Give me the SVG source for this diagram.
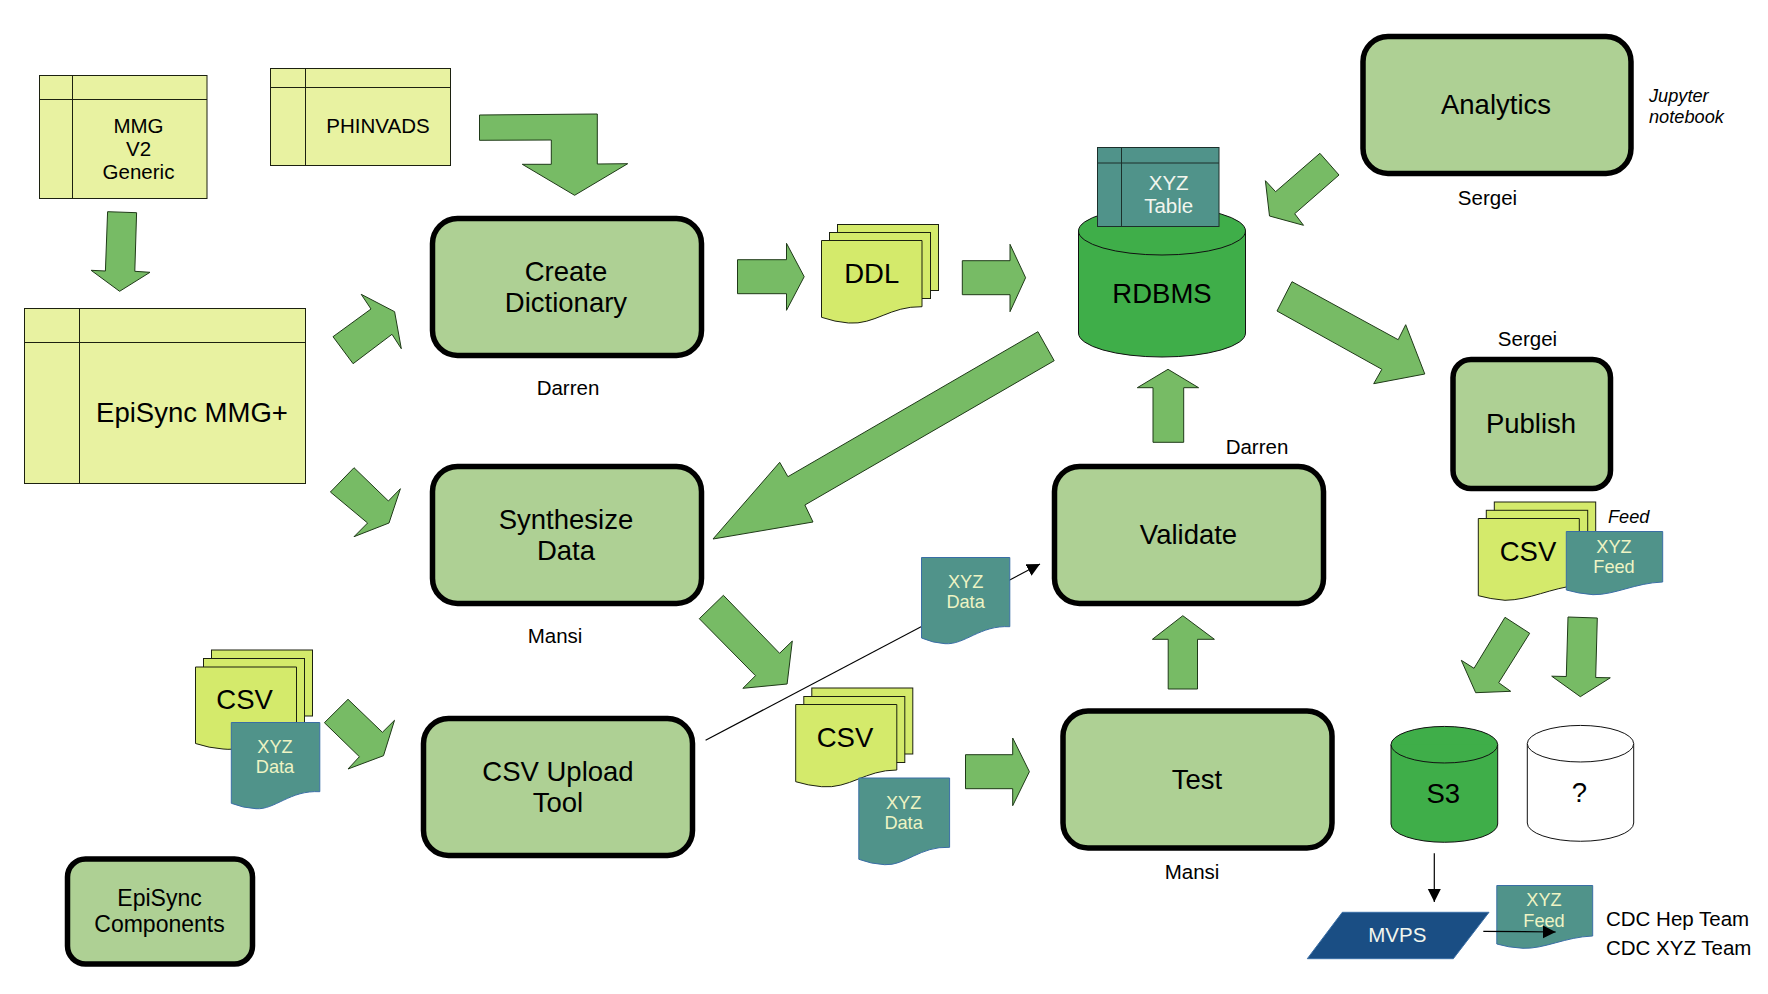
<svg xmlns="http://www.w3.org/2000/svg" width="1768" height="994" viewBox="0 0 1768 994">
<style>
text{font-family:"Liberation Sans",Arial,sans-serif;fill:#000;text-anchor:middle}
.s20{font-size:20.5px}.s27{font-size:27.5px}.s23{font-size:23px}.s18{font-size:18.2px}
.it{font-style:italic;text-anchor:start}.st{text-anchor:start}
.pale{fill:#eef4c4}.wh{fill:#f2f6ee}
.tb{fill:#e8f2a1;stroke:#1c2110;stroke-width:1}
.tbl{fill:none;stroke:#1c2110;stroke-width:1}
.proc{fill:#aed094;stroke:#000;stroke-width:5.5}
.arr{fill:#77bb65;stroke:#1f3a18;stroke-width:1}
.doc{fill:#d4ea6b;stroke:#1c2110;stroke-width:1}
.td{fill:#50938a;stroke:#3a6ea5;stroke-width:1}
.cyl{fill:#3fae49;stroke:#111;stroke-width:1}
.cylw{fill:#fff;stroke:#111;stroke-width:1}
.ln{fill:none;stroke:#000;stroke-width:1.2}
</style>
<defs>
<marker id="ah" markerUnits="userSpaceOnUse" markerWidth="14" markerHeight="14" refX="13" refY="6.5" orient="auto"><path d="M0 0L13 6.5L0 13Z" fill="#000"/></marker>
</defs>
<g id="connectors">
<polygon class="arr" points="479.500,115 597.300,114 597.300,164 627.700,163.700 574.600,195.300 522.300,164.300 551.300,164.300 551.300,140 479.500,140.300"/>
<polygon class="arr" points="107.600,211.700 136.600,212.700 134.800,271.300 150,272.300 119.600,291.300 91.100,270.300 105.400,271"/>
<polygon class="arr" points="333,336.700 371,309 361.200,294.300 394.600,311.700 401.300,348.700 392,334.300 353.100,363.700"/>
<polygon class="arr" points="330.400,492 354,467.700 388.400,501 400.400,488.700 389,523 354,536.700 367.600,523"/>
<polygon class="arr" points="324.400,722.700 348,699.300 382.400,732.300 394.500,720.300 383.500,755.700 348,769 359.400,756.700"/>
<polygon class="arr" points="699.300,618.700 723.400,595.300 779.600,653.300 792.300,641 787.100,684 742.900,688.300 755.500,675.700"/>
<polygon class="arr" points="965.500,754.700 1012.700,754.700 1012.700,738 1029.400,771.700 1012.700,805.700 1012.700,788.700 965.500,788.700"/>
<polygon class="arr" points="737.500,259.700 786.500,259.700 786.500,243.300 804.200,276.700 786.500,310.300 786.500,293.700 737.500,293.700"/>
<polygon class="arr" points="962.300,260.700 1010,260.700 1010,244.300 1025.600,277.700 1010,311.700 1010,294.700 962.300,294.700"/>
<polygon class="arr" points="1319.900,153.300 1339,175 1294.700,213.700 1303.500,225.300 1269.500,216 1265.400,180.700 1275.600,191.700"/>
<polygon class="arr" points="1292,281.700 1398.200,339.700 1405.700,324.700 1424.800,374 1373.700,383.700 1381.900,369.300 1277,311"/>
<polygon class="arr" points="1037.900,331.700 1054.200,360.700 804.900,505 813,522 713,539 779.700,462.300 787.900,476.700"/>
<polygon class="arr" points="1168,369.300 1198.600,387.700 1183.700,387.700 1183.700,442.300 1153,442.300 1153,387.700 1137.300,387.700"/>
<polygon class="arr" points="1182.800,615.700 1214.400,639.300 1197.500,639.300 1197.500,689 1168.200,689 1168.200,639.300 1152.400,639.300"/>
<polygon class="arr" points="1505,617.300 1529.700,633.300 1498.700,682.700 1510.700,691.300 1475.700,692.700 1461.300,660.300 1474,668.300"/>
<polygon class="arr" points="1568,617 1597.300,618 1595.700,677.500 1610.300,677.800 1580.300,696.700 1551.700,676.200 1566.300,676.500"/>
<line class="ln" x1="705.600" y1="740.300" x2="1040" y2="564" marker-end="url(#ah)"/>
<line class="ln" x1="1434.300" y1="853.300" x2="1434.300" y2="902" marker-end="url(#ah)"/>
</g>
<g id="mmg"><rect class="tb" x="39.500" y="75.500" width="167.500" height="123"/><path class="tbl" d="M72.500 75.500V198.500M39.500 99.500H207"/>
<text class="s20" x="138.500" y="133">MMG</text><text class="s20" x="138.500" y="156">V2</text><text class="s20" x="138.500" y="179">Generic</text></g>
<g id="phinvads"><rect class="tb" x="270.500" y="68.500" width="180" height="97"/><path class="tbl" d="M305.500 68.500V165.500M270.500 87.500H450.500"/>
<text class="s20" x="378" y="133">PHINVADS</text></g>
<g id="episync-mmg"><rect class="tb" x="24.500" y="308.500" width="281" height="175"/><path class="tbl" d="M79.500 308.500V483.500M24.500 342.500H305.500"/>
<text class="s27" x="192" y="422">EpiSync MMG+</text></g>
<g id="create-dictionary"><rect class="proc" x="432.500" y="218.500" width="269" height="137" rx="25"/>
<text class="s27" x="566" y="281">Create</text><text class="s27" x="566" y="312">Dictionary</text>
<text class="s20" x="568" y="395">Darren</text></g>
<g id="synthesize-data"><rect class="proc" x="432.500" y="466.500" width="269" height="137" rx="25"/>
<text class="s27" x="566" y="529">Synthesize</text><text class="s27" x="566" y="560">Data</text>
<text class="s20" x="555" y="643">Mansi</text></g>
<g id="csv-upload-tool"><rect class="proc" x="423.500" y="718.500" width="269" height="137" rx="25"/>
<text class="s27" x="558" y="781">CSV Upload</text><text class="s27" x="558" y="812">Tool</text></g>
<g id="validate"><rect class="proc" x="1054.500" y="466.500" width="269" height="137" rx="25"/>
<text class="s27" x="1188.500" y="544">Validate</text><text class="s20" x="1257" y="454">Darren</text></g>
<g id="test"><rect class="proc" x="1063" y="711" width="269" height="137" rx="25"/>
<text class="s27" x="1197" y="789">Test</text><text class="s20" x="1192" y="879">Mansi</text></g>
<g id="analytics"><rect class="proc" x="1363" y="36.500" width="268" height="137" rx="25"/>
<text class="s27" x="1496" y="114">Analytics</text><text class="s20" x="1487.500" y="205">Sergei</text>
<text class="s18 it" x="1649" y="102">Jupyter</text><text class="s18 it" x="1649" y="123">notebook</text></g>
<g id="publish"><rect class="proc" x="1453" y="359.500" width="157.500" height="129" rx="18"/>
<text class="s27" x="1531" y="433">Publish</text><text class="s20" x="1527.500" y="346">Sergei</text></g>
<g id="episync-components"><rect class="proc" x="67.500" y="859" width="185" height="105" rx="18"/>
<text class="s23" x="159.500" y="906">EpiSync</text><text class="s23" x="159.500" y="932">Components</text></g>
<g id="ddl">
<rect class="doc" x="837.500" y="224.500" width="101" height="66"/><rect class="doc" x="829.500" y="232.500" width="101" height="66"/>
<path class="doc" d="M821.500 240.500H922V306.700C890 306 875 325 848.500 323Q835 322 821.500 317.300Z"/>
<text class="s27" x="871.700" y="283">DDL</text></g>
<g id="rdbms">
<path class="cyl" d="M1078.500 231A83.500 24 0 0 1 1245.500 231V333A83.500 24 0 0 1 1078.500 333Z"/>
<path class="cyl" d="M1078.500 231A83.500 24 0 0 0 1245.500 231"/>
<text class="s27" x="1162" y="303">RDBMS</text></g>
<g id="xyz-table"><rect x="1097.500" y="147.500" width="121.500" height="79" fill="#50938a" stroke="#1c2f2b"/><path d="M1121.500 147.500V226.500M1097.500 163H1219" fill="none" stroke="#1c2f2b"/>
<text class="s20 wh" x="1168.700" y="190">XYZ</text><text class="s20 wh" x="1168.700" y="213">Table</text></g>
<g id="csv-left">
<rect class="doc" x="211.500" y="650" width="101" height="66"/><rect class="doc" x="203.500" y="658.500" width="101" height="66"/>
<path class="doc" d="M195.500 667H296.500V733C265 733 250 752 223 749Q209 748 195.500 743.500Z"/>
<text class="s27" x="244.600" y="709">CSV</text></g>
<g id="xyz-data-left">
<path class="td" d="M231.300 722.500H319.800V791.700C290 790 275 810 256 808.700Q243 808 231.300 803.300Z"/>
<text class="s18 pale" x="275" y="753">XYZ</text><text class="s18 pale" x="275" y="773">Data</text></g>
<g id="xyz-data-top">
<path class="td" d="M921.500 557.500H1009.800V626.700C980 625 965 645 945 643.700Q933 643 921.500 638Z"/>
<text class="s18 pale" x="965.600" y="587.500">XYZ</text><text class="s18 pale" x="965.600" y="607.500">Data</text></g>
<g id="csv-mid">
<rect class="doc" x="811.800" y="688" width="101" height="66"/><rect class="doc" x="803.800" y="696.500" width="101" height="66"/>
<path class="doc" d="M795.700 704.500H896.800V770C865 770 850 789 821.600 786.700Q808 785.500 795.700 781.700Z"/>
<text class="s27" x="845" y="747">CSV</text></g>
<g id="xyz-data-mid">
<path class="td" d="M858.800 778H949.600V847.300C920 846 905 866 884.700 864.700Q871 864 858.800 859.300Z"/>
<text class="s18 pale" x="903.600" y="809">XYZ</text><text class="s18 pale" x="903.600" y="829">Data</text></g>
<g id="csv-feed">
<rect class="doc" x="1494.300" y="502" width="101.400" height="66"/><rect class="doc" x="1486.300" y="510.300" width="101.400" height="66"/>
<path class="doc" d="M1478.300 518.500H1579.300V585C1550 588 1530 600 1505 600.300Q1490 599 1478.300 595.700Z"/>
<text class="s27" x="1528" y="561">CSV</text>
<text class="s18 it" x="1608" y="523">Feed</text></g>
<g id="xyz-feed">
<path class="td" d="M1566.300 531.500H1662.700V582C1635 583 1615 595 1593 594.700Q1578 593.500 1566.300 590Z"/>
<text class="s18 pale" x="1614" y="553">XYZ</text><text class="s18 pale" x="1614" y="573">Feed</text></g>
<g id="s3">
<path class="cyl" d="M1391 744.700A53.350 18.300 0 0 1 1497.700 744.700V824A53.350 18.300 0 0 1 1391 824Z"/>
<path class="cyl" d="M1391 744.700A53.350 18.300 0 0 0 1497.700 744.700"/>
<text class="s27" x="1443.300" y="803">S3</text></g>
<g id="unknown-store">
<path class="cylw" d="M1527.300 743.700A53.200 18.300 0 0 1 1633.700 743.700V823A53.200 18.300 0 0 1 1527.300 823Z"/>
<path class="cylw" d="M1527.300 743.700A53.200 18.300 0 0 0 1633.700 743.700"/>
<text class="s27" x="1579.300" y="802">?</text></g>
<g id="mvps"><polygon points="1342.300,912.300 1489,912.300 1453.300,958.700 1307.300,958.700" fill="#1a4e84" stroke="#3a6ea5"/>
<text class="s20 wh" x="1397.300" y="942">MVPS</text></g>
<g id="xyz-feed-out">
<path class="td" d="M1496.800 885.500H1592.700V936C1565 937 1545 949 1523 948.300Q1508 947.500 1496.800 944Z"/>
<text class="s18 pale" x="1544" y="906">XYZ</text><text class="s18 pale" x="1544" y="927">Feed</text></g>
<g id="overlay-connector"><line class="ln" x1="1483.300" y1="931.300" x2="1555.700" y2="932" marker-end="url(#ah)"/></g>
<g id="cdc-teams"><text class="s20 st" x="1606" y="926">CDC Hep Team</text><text class="s20 st" x="1606" y="955">CDC XYZ Team</text></g>
</svg>
